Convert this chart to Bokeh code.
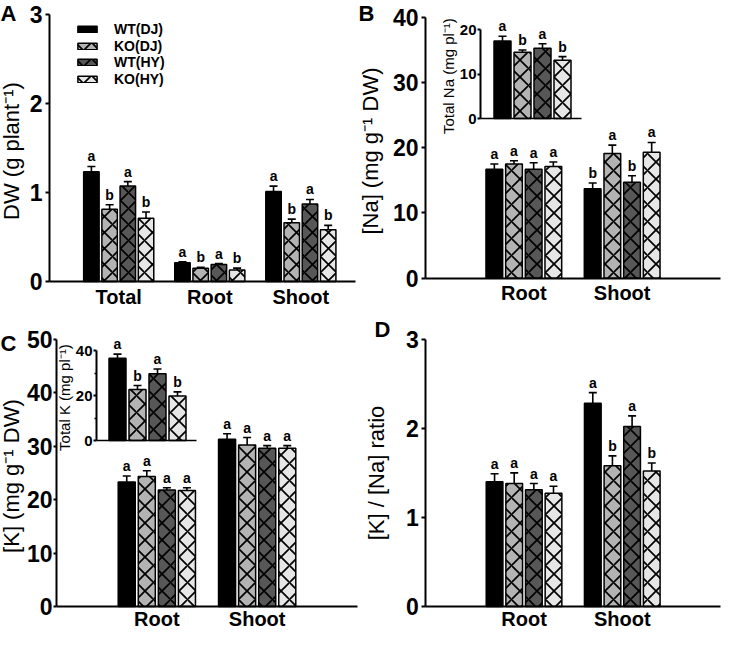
from bokeh.plotting import figure
from bokeh.layouts import column, row
from bokeh.models import (ColumnDataSource, Range1d, FixedTicker, LinearAxis,
                          Whisker, TeeHead, Label, Legend, LegendItem)
from bokeh.core.properties import value
from bokeh.embed import file_html
from bokeh.resources import INLINE

FONT = "Liberation Sans"

# ---------------- data ----------------
genotypes = ["WT(DJ)", "KO(DJ)", "WT(HY)", "KO(HY)"]
fill_colors = ["#000000", "#b3b3b3", "#575757", "#e6e6e6"]
hatch_patterns = [None, "diagonal_cross", "diagonal_cross", "diagonal_cross"]

# Panel A: dry weight (g plant-1)
a_groups = ["Total", "Root", "Shoot"]
a_wt_dj = [1.23, 0.21, 1.01]
a_wt_dj_err = [0.06, 0.01, 0.06]
a_wt_dj_sig = ["a", "a", "a"]
a_ko_dj = [0.81, 0.15, 0.66]
a_ko_dj_err = [0.05, 0.01, 0.04]
a_ko_dj_sig = ["b", "b", "b"]
a_wt_hy = [1.07, 0.19, 0.87]
a_wt_hy_err = [0.05, 0.01, 0.05]
a_wt_hy_sig = ["a", "a", "a"]
a_ko_hy = [0.71, 0.13, 0.58]
a_ko_hy_err = [0.07, 0.02, 0.05]
a_ko_hy_sig = ["b", "b", "b"]
a_yticks = [0, 1, 2, 3]

# Panel B: [Na] (mg g-1 DW)
b_groups = ["Root", "Shoot"]
b_wt_dj = [16.7, 13.7]
b_wt_dj_err = [0.8, 0.9]
b_wt_dj_sig = ["a", "b"]
b_ko_dj = [17.5, 19.1]
b_ko_dj_err = [0.5, 1.3]
b_ko_dj_sig = ["a", "a"]
b_wt_hy = [16.7, 14.7]
b_wt_hy_err = [1.0, 1.0]
b_wt_hy_sig = ["a", "b"]
b_ko_hy = [17.1, 19.3]
b_ko_hy_err = [0.7, 1.5]
b_ko_hy_sig = ["a", "a"]
b_yticks = [0, 10, 20, 30, 40]
# inset: total Na (mg pl-1)
bi_total = [17.4, 14.9, 15.8, 13.1]
bi_err = [1.1, 0.5, 1.0, 0.8]
bi_sig = ["a", "b", "a", "b"]
bi_yticks = [0, 10, 20]

# Panel C: [K] (mg g-1 DW)
c_groups = ["Root", "Shoot"]
c_wt_dj = [23.3, 31.3]
c_wt_dj_err = [1.1, 1.0]
c_wt_dj_sig = ["a", "a"]
c_ko_dj = [24.3, 30.2]
c_ko_dj_err = [1.1, 1.4]
c_ko_dj_sig = ["a", "a"]
c_wt_hy = [21.8, 29.6]
c_wt_hy_err = [0.4, 0.5]
c_wt_hy_sig = ["a", "a"]
c_ko_hy = [21.7, 29.6]
c_ko_hy_err = [0.5, 0.5]
c_ko_hy_sig = ["a", "a"]
c_yticks = [0, 10, 20, 30, 40, 50]
# inset: total K (mg pl-1)
ci_total = [36.7, 22.7, 29.8, 19.8]
ci_err = [1.8, 1.8, 2.1, 1.9]
ci_sig = ["a", "b", "a", "b"]
ci_yticks = [0, 20, 40]
ci_minor = [10, 30]

# Panel D: [K]/[Na] ratio
d_groups = ["Root", "Shoot"]
d_wt_dj = [1.40, 2.28]
d_wt_dj_err = [0.09, 0.12]
d_wt_dj_sig = ["a", "a"]
d_ko_dj = [1.38, 1.58]
d_ko_dj_err = [0.12, 0.11]
d_ko_dj_sig = ["a", "b"]
d_wt_hy = [1.31, 2.02]
d_wt_hy_err = [0.07, 0.12]
d_wt_hy_sig = ["a", "a"]
d_ko_hy = [1.27, 1.52]
d_ko_hy_err = [0.08, 0.09]
d_ko_hy_sig = ["a", "b"]
d_yticks = [0, 1, 2, 3]

OFFSETS = [-0.3, -0.1, 0.1, 0.3]
BAR_W = 0.17


def span(d0, d1, p0, p1, c0, c1):
    """Range whose values d0/d1 land on pixels p0/p1 of a canvas spanning c0..c1."""
    k = (d1 - d0) / (p1 - p0)
    return Range1d(d0 + (c0 - p0) * k, d0 + (c1 - p0) * k)


def make_fig(width, height, xr, yr):
    p = figure(width=width, height=height, x_range=xr, y_range=yr,
               x_axis_location=None, y_axis_location=None,
               output_backend="svg", toolbar_location=None,
               min_border=0, min_border_left=0, min_border_right=0,
               min_border_top=0, min_border_bottom=0)
    p.outline_line_color = None
    p.grid.visible = False
    p.background_fill_color = "white"
    p.border_fill_color = "white"
    return p


def add_series(p, xs, vals, errs, sigs, i, hatch_scale, xr="default", yr="default"):
    src = ColumnDataSource(dict(x=xs, top=vals, upper=[v + e for v, e in zip(vals, errs)], sig=sigs))
    kw = dict(x_range_name=xr, y_range_name=yr)
    extra = {}
    if hatch_patterns[i] is not None:
        extra = dict(hatch_pattern=hatch_patterns[i], hatch_color="black",
                     hatch_scale=hatch_scale, hatch_weight=1.7)
    r = p.vbar(x="x", top="top", bottom=0, width=BAR_W, source=src,
               fill_color=fill_colors[i], line_color="black", line_width=1.5, **extra, **kw)
    p.add_layout(Whisker(source=src, base="x", lower="top", upper="upper", dimension="height",
                         line_color="black", line_width=1.6,
                         upper_head=TeeHead(size=8, line_width=1.6, line_color="black"),
                         lower_head=None, **kw))
    p.text(x="x", y="upper", text="sig", source=src, text_align="center",
           text_baseline="bottom", text_font=value(FONT), text_font_style="bold",
           text_font_size="14px", y_offset=-2, **kw)
    return r


def add_grouped(p, groups, series, hatch_scale):
    centers = [k + 1 for k in range(len(groups))]
    rends = []
    for i, (vals, errs, sigs) in enumerate(series):
        xs = [c + OFFSETS[i] for c in centers]
        rends.append(add_series(p, xs, vals, errs, sigs, i, hatch_scale))
    return centers, rends


def main_axes(p, x_lo, x_hi, centers, groups, yticks, ylabel, tick_out, lab_std, axlab_std, x_std):
    ya = LinearAxis(fixed_location=x_lo, bounds=(yticks[0], yticks[-1]),
                    ticker=FixedTicker(ticks=yticks), axis_label=ylabel)
    ya.axis_line_width = 2
    ya.axis_line_color = "black"
    ya.major_tick_line_width = 2
    ya.major_tick_line_color = "black"
    ya.major_tick_out = tick_out
    ya.major_tick_in = 0
    ya.minor_tick_line_color = None
    ya.major_label_standoff = lab_std
    ya.major_label_text_font = FONT
    ya.major_label_text_font_style = "bold"
    ya.major_label_text_font_size = "23px"
    ya.major_label_text_color = "black"
    ya.axis_label_text_font = FONT
    ya.axis_label_text_font_style = "normal"
    ya.axis_label_text_font_size = "22px"
    ya.axis_label_text_color = "black"
    ya.axis_label_standoff = axlab_std
    p.add_layout(ya, "left")

    xa = LinearAxis(fixed_location=0, bounds=(x_lo, x_hi), ticker=FixedTicker(ticks=centers),
                    major_label_overrides={c: g for c, g in zip(centers, groups)})
    xa.axis_line_width = 2
    xa.axis_line_color = "black"
    xa.major_tick_line_color = None
    xa.major_tick_out = 0
    xa.major_tick_in = 0
    xa.minor_tick_line_color = None
    xa.major_label_standoff = x_std
    xa.major_label_text_font = FONT
    xa.major_label_text_font_style = "bold"
    xa.major_label_text_font_size = "20px"
    xa.major_label_text_color = "black"
    p.add_layout(xa, "below")


def panel_letter(p, text, x, y):
    p.add_layout(Label(x=x, y=y, x_units="screen", y_units="screen", text=text,
                       text_font=FONT, text_font_style="bold", text_font_size="22px",
                       text_baseline="top", text_align="left", text_color="black"))


def add_inset(p, ixr, iyr, axis_x, axis_right, vals, errs, sigs, yticks, minor, label):
    p.extra_x_ranges["ix"] = ixr
    p.extra_y_ranges["iy"] = iyr
    for i in range(4):
        add_series(p, [OFFSETS[i]], [vals[i]], [errs[i]], [sigs[i]], i, 17, xr="ix", yr="iy")
    ay = LinearAxis(x_range_name="ix", y_range_name="iy", fixed_location=axis_x,
                    bounds=(yticks[0], yticks[-1]), ticker=FixedTicker(ticks=yticks, minor_ticks=minor),
                    axis_label=label)
    ay.axis_line_width = 2
    ay.axis_line_color = "black"
    ay.major_tick_line_width = 2
    ay.major_tick_line_color = "black"
    ay.major_tick_out = 3
    ay.major_tick_in = 0
    ay.minor_tick_out = 2
    ay.minor_tick_in = 0
    ay.minor_tick_line_width = 1.5
    ay.minor_tick_line_color = "black"
    ay.major_label_standoff = 1
    ay.major_label_text_font = FONT
    ay.major_label_text_font_style = "bold"
    ay.major_label_text_font_size = "15px"
    ay.major_label_text_color = "black"
    ay.axis_label_text_font = FONT
    ay.axis_label_text_font_style = "normal"
    ay.axis_label_text_font_size = "15px"
    ay.axis_label_text_color = "black"
    ay.axis_label_standoff = 0
    p.add_layout(ay, "left")
    ax = LinearAxis(x_range_name="ix", y_range_name="iy", fixed_location=0,
                    bounds=(axis_x, axis_right), ticker=FixedTicker(ticks=[]))
    ax.axis_line_width = 1.5
    ax.axis_line_color = "black"
    ax.major_tick_line_color = None
    ax.minor_tick_line_color = None
    ax.major_label_text_font_size = "0px"
    p.add_layout(ax, "below")


# Canvas pixel boxes (page coordinates): top row y 8..318, bottom row y 318..638
# ---------------- Panel A ----------------
pA = make_fig(358, 310, span(0.24, 3.6, 57, 363, 8, 366), span(0, 3, 289, 21.5, 318, 8))
cA, rA = add_grouped(pA, a_groups, [(a_wt_dj, a_wt_dj_err, a_wt_dj_sig), (a_ko_dj, a_ko_dj_err, a_ko_dj_sig),
                                    (a_wt_hy, a_wt_hy_err, a_wt_hy_sig), (a_ko_hy, a_ko_hy_err, a_ko_hy_sig)], 16)
main_axes(pA, 0.24, 3.6, cA, a_groups, a_yticks, "DW  (g plant\u207b\u00b9)", 4, 3, 3, 4)
legend_rows = [273, 256.5, 240, 223.5]   # legend box bottoms, px above canvas bottom
for i, r in enumerate(rA):
    lg = Legend(items=[LegendItem(label=genotypes[i], renderers=[r])], location=(75, legend_rows[i]))
    lg.border_line_color = None
    lg.background_fill_alpha = 0
    lg.padding = 0
    lg.margin = 0
    lg.spacing = 0
    lg.glyph_width = 24
    lg.glyph_height = 8
    lg.label_standoff = 15
    lg.label_height = 8
    lg.label_text_font = FONT
    lg.label_text_font_style = "bold"
    lg.label_text_font_size = "14px"
    lg.label_text_color = "black"
    pA.add_layout(lg)
panel_letter(pA, "A", 0, 310)

# ---------------- Panel B ----------------
pB = make_fig(364, 310, span(0, 3, 433, 728, 366, 730), span(0, 40, 285.7, 24.7, 318, 8))
cB, _ = add_grouped(pB, b_groups, [(b_wt_dj, b_wt_dj_err, b_wt_dj_sig), (b_ko_dj, b_ko_dj_err, b_ko_dj_sig),
                                   (b_wt_hy, b_wt_hy_err, b_wt_hy_sig), (b_ko_hy, b_ko_hy_err, b_ko_hy_sig)], 17)
main_axes(pB, 0, 3, cB, b_groups, b_yticks, "[Na]  (mg g\u207b\u00b9 DW)", 4, 3, 7, 4)
add_inset(pB, span(0, 1, 540, 640, 366, 730), span(0, 20, 126, 37, 318, 8), -0.52, 0.49,
          bi_total, bi_err, bi_sig, bi_yticks, [], "Total Na  (mg pl\u207b\u00b9)")
panel_letter(pB, "B", 0, 310)

# ---------------- Panel C ----------------
pC = make_fig(358, 320, span(0, 3, 64, 365, 8, 366), span(0, 50, 614, 346.7, 638, 318))
cC, _ = add_grouped(pC, c_groups, [(c_wt_dj, c_wt_dj_err, c_wt_dj_sig), (c_ko_dj, c_ko_dj_err, c_ko_dj_sig),
                                   (c_wt_hy, c_wt_hy_err, c_wt_hy_sig), (c_ko_hy, c_ko_hy_err, c_ko_hy_sig)], 17)
main_axes(pC, 0, 3, cC, c_groups, c_yticks, "[K]  (mg g\u207b\u00b9 DW)", 3, 1, 0, 1)
add_inset(pC, span(0, 1, 155, 255, 8, 366), span(0, 40, 448, 358.3, 638, 318), -0.51, 0.49,
          ci_total, ci_err, ci_sig, ci_yticks, ci_minor, "Total K  (mg pl\u207b\u00b9)")
panel_letter(pC, "C", 0, 300)

# ---------------- Panel D ----------------
pD = make_fig(364, 320, span(0, 3, 433.3, 728, 366, 730), span(0, 3, 614, 346.7, 638, 318))
cD, _ = add_grouped(pD, d_groups, [(d_wt_dj, d_wt_dj_err, d_wt_dj_sig), (d_ko_dj, d_ko_dj_err, d_ko_dj_sig),
                                   (d_wt_hy, d_wt_hy_err, d_wt_hy_sig), (d_ko_hy, d_ko_hy_err, d_ko_hy_sig)], 17)
main_axes(pD, 0, 3, cD, d_groups, d_yticks, "[K] / [Na] ratio", 4, 3, 14, 1)
panel_letter(pD, "D", 16, 314)

layout = column(row(pA, pB), row(pC, pD))
open("out.html", "w").write(file_html(layout, INLINE))
